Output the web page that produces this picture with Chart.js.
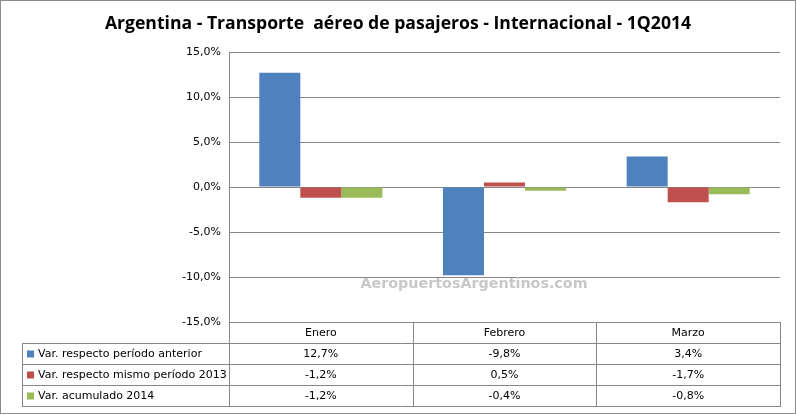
<!DOCTYPE html>
<html>
<head>
<meta charset="utf-8">
<script src="https://cdn.jsdelivr.net/npm/chart.js@4.4.1/dist/chart.umd.min.js"></script>
<style>
	html, body { margin: 0; padding: 0; background: #fff; }
	canvas { display: block; }
</style>
</head>
<body>
<canvas id="chart" width="796" height="414"></canvas>
<script>
const categories = ["Enero", "Febrero", "Marzo"];
const seriesNames = [
	"Var. respecto período anterior",
	"Var. respecto mismo período 2013",
	"Var. acumulado 2014",
];
const varAnterior = [12.7, -9.8, 3.4];
const varMismoPeriodo = [-1.2, 0.5, -1.7];
const varAcumulado = [-1.2, -0.4, -0.8];
const seriesColors = ["#4f81bd", "#c0504d", "#9bbb59"];

const fmt = (v) => v.toFixed(1).replace(".", ",") + "%";
const textFont = "'DejaVu Sans', Verdana, sans-serif";
const lineColor = "#868686";

// tabla de datos bajo el eje, como en Excel
const dataTable = {
	id: "dataTable",
	afterDraw(chart) {
		const ctx = chart.ctx;
		const area = chart.chartArea;
		const xs = chart.scales.x;
		const colW = (area.right - area.left) / categories.length;
		const rowH = 21;
		const top = area.bottom;
		const tableLeft = 22;
		const rows = [varAnterior, varMismoPeriodo, varAcumulado];

		ctx.save();
		ctx.strokeStyle = lineColor;
		ctx.lineWidth = 1;
		ctx.beginPath();
		// columnas
		for (let i = 0; i <= categories.length; i++) {
			const x = Math.round(area.left + i * colW) + 0.5;
			ctx.moveTo(x, top);
			ctx.lineTo(x, top + rowH * 4);
		}
		ctx.moveTo(tableLeft + 0.5, top + rowH);
		ctx.lineTo(tableLeft + 0.5, top + rowH * 4);
		// filas
		ctx.moveTo(area.left, top + 0.5);
		ctx.lineTo(area.right + 1, top + 0.5);
		for (let r = 1; r <= 4; r++) {
			const y = top + r * rowH + 0.5;
			ctx.moveTo(tableLeft, y);
			ctx.lineTo(area.right + 1, y);
		}
		ctx.stroke();

		ctx.font = "11px " + textFont;
		ctx.fillStyle = "#000";
		ctx.textBaseline = "middle";
		ctx.textAlign = "center";
		categories.forEach((c, i) => {
			ctx.fillText(c, xs.getPixelForValue(i), top + rowH / 2 + 1);
		});
		rows.forEach((vals, r) => {
			const y = top + (r + 1.5) * rowH + 1;
			vals.forEach((v, i) => {
				ctx.textAlign = "center";
				ctx.fillText(fmt(v), xs.getPixelForValue(i), y);
			});
			ctx.fillStyle = seriesColors[r];
			ctx.fillRect(tableLeft + 5, y - 4, 7, 7);
			ctx.fillStyle = "#000";
			ctx.textAlign = "left";
			ctx.fillText(seriesNames[r], tableLeft + 16, y);
		});

		// marca de agua
		ctx.font = "bold 14.3px " + textFont;
		ctx.fillStyle = "#c8c8c8";
		ctx.textAlign = "center";
		ctx.fillText("AeropuertosArgentinos.com", 474, 284);

		// borde exterior
		ctx.strokeStyle = "#8c8c8c";
		ctx.strokeRect(0.5, 0.5, chart.width - 1, chart.height - 1);
		ctx.restore();
	},
};

new Chart(document.getElementById("chart"), {
	type: "bar",
	data: {
		labels: categories,
		datasets: [
			{ label: seriesNames[0], data: varAnterior, backgroundColor: seriesColors[0] },
			{ label: seriesNames[1], data: varMismoPeriodo, backgroundColor: seriesColors[1] },
			{ label: seriesNames[2], data: varAcumulado, backgroundColor: seriesColors[2] },
		],
	},
	options: {
		responsive: false,
		animation: false,
		devicePixelRatio: 1,
		categoryPercentage: 0.67,
		barPercentage: 1.0,
		layout: {
			padding: { top: 0, right: 16, bottom: 92, left: 16 },
		},
		plugins: {
			legend: { display: false },
			tooltip: { enabled: false },
			title: {
				display: true,
				text: "Argentina - Transporte  aéreo de pasajeros - Internacional - 1Q2014",
				font: { family: "'Open Sans', sans-serif", size: 17.6, weight: "bold" },
				color: "#000",
				padding: { top: 13, bottom: 18 },
			},
		},
		scales: {
			x: { display: false },
			y: {
				min: -15,
				max: 15,
				afterFit: (scale) => { scale.width = 213; },
				ticks: {
					stepSize: 5,
					callback: (v) => fmt(v),
					font: { family: textFont, size: 11 },
					color: "#000",
					padding: 8,
				},
				grid: { color: lineColor, drawTicks: false },
				border: { display: true, color: lineColor },
			},
		},
	},
	plugins: [dataTable],
});
</script>
</body>
</html>
